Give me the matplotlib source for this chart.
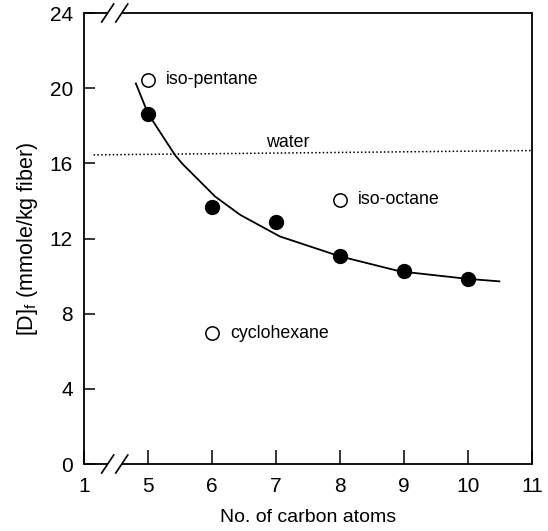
import matplotlib
matplotlib.use("Agg")
import matplotlib.pyplot as plt
from matplotlib.transforms import offset_copy

plt.rcParams["font.family"] = ["Liberation Sans", "DejaVu Sans"]
plt.rcParams["mathtext.fontset"] = "custom"
plt.rcParams["mathtext.rm"] = "Liberation Sans"
plt.rcParams["mathtext.it"] = "Liberation Sans:italic"

# n-alkanes (filled symbols)
carbons = [5, 6, 7, 8, 9, 10]
dye_uptake = [18.65, 13.65, 12.9, 11.05, 10.25, 9.85]

# branched / cyclic solvents (open symbols)
other_names = ["iso-pentane", "iso-octane", "cyclohexane"]
other_carbons = [5, 8, 6]
other_uptake = [20.45, 14.05, 6.95]

# smooth trend through the alkane series
trend_x = [4.81, 5.0, 5.42, 5.53, 6.05, 6.44, 7.06, 8.0, 8.94, 10.0, 10.49]
trend_y = [20.25, 18.65, 16.45, 16.0, 14.23, 13.26, 12.11, 11.05, 10.25, 9.85, 9.72]

# reference level for water
water_x = [4.15, 11.0]
water_y = [16.45, 16.68]

# x tick positions and labels (axis broken between 1 and 5)
xtick_pos = [4, 5, 6, 7, 8, 9, 10, 11]
xtick_lab = ["1", "5", "6", "7", "8", "9", "10", "11"]
ytick_pos = [0, 4, 8, 12, 16, 20, 24]

fig = plt.figure(figsize=(5.48, 5.31), dpi=100)
ax = fig.add_axes([84 / 548, 1 - 464 / 531, 448 / 548, 451 / 531])
ax.set_xlim(4, 11)
ax.set_ylim(0, 24)

ax.plot(water_x, water_y, color="black", lw=1.1, ls=(0, (1, 1.5)))
ax.plot(trend_x, trend_y, color="black", lw=1.3)
ax.plot(carbons, dye_uptake, "o", color="black", ms=10, zorder=3)
ax.plot(other_carbons, other_uptake, "o", mfc="white", mec="black",
        mew=1.1, ms=9.6, zorder=3)

for name, cx, cy in zip(other_names, other_carbons, other_uptake):
    ax.annotate(name, (cx, cy), xytext=(13, 0), textcoords="offset points",
                ha="left", va="center", fontsize=12.8)
ax.text(6.85, 17.1, "water", ha="left", va="center", fontsize=12.8)

ax.set_xticks(xtick_pos)
ax.set_xticklabels(xtick_lab)
ax.set_yticks(ytick_pos)
ax.tick_params(axis="x", direction="in", length=10, width=1.1, pad=9,
               labelsize=15)
ax.tick_params(axis="y", direction="in", length=8, width=1.1, pad=8,
               labelsize=15)
ax.tick_params(axis="x", which="major", top=False)

ax.set_xlabel("No. of carbon atoms", fontsize=14, labelpad=10)
ax.set_ylabel(r"[D]$_\mathregular{f}$ (mmole/kg fiber)", fontsize=15.5,
              labelpad=7)

# broken bottom and top spines with double-slash markers
ax.spines["bottom"].set_visible(False)
ax.spines["top"].set_visible(False)
for sp in ("left", "right"):
    ax.spines[sp].set_linewidth(1.3)
break_a, break_b = 4.37, 4.59
for yv in (0, 24):
    ax.plot([4, break_a], [yv, yv], color="black", lw=1.3, clip_on=False,
            solid_capstyle="butt")
    ax.plot([break_b, 11], [yv, yv], color="black", lw=1.3, clip_on=False,
            solid_capstyle="butt")
    for bx in (break_a, break_b):
        lo = offset_copy(ax.transData, fig=fig, x=-6, y=-9, units="dots")
        hi = offset_copy(ax.transData, fig=fig, x=6, y=9, units="dots")
        p0 = lo.transform((bx, yv))
        p1 = hi.transform((bx, yv))
        ax.plot([p0[0], p1[0]], [p0[1], p1[1]], color="black", lw=1.2,
                transform=None, clip_on=False)

fig.savefig("out.png", dpi=100)
